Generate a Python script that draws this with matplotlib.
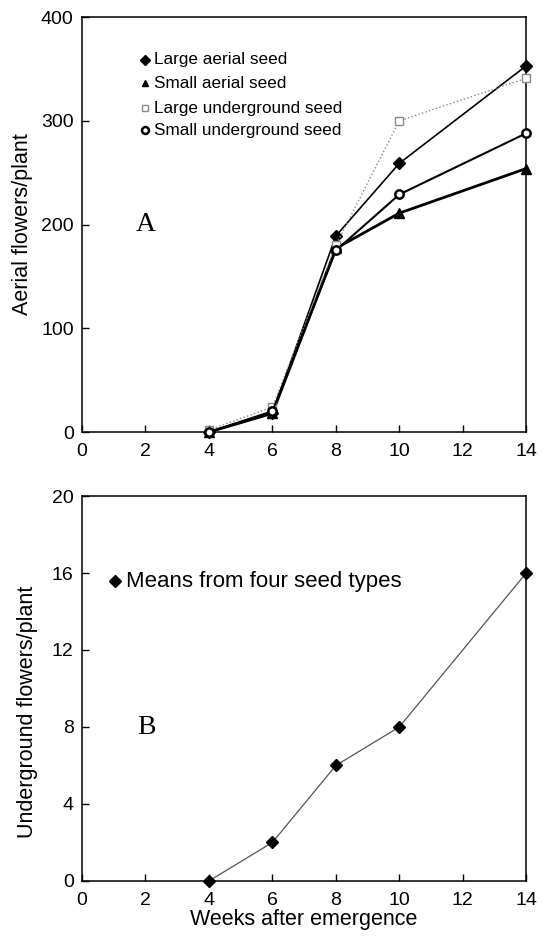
import matplotlib
matplotlib.use("Agg")
import matplotlib.pyplot as plt

plt.rcParams['font.family'] = ['Liberation Sans', 'DejaVu Sans']

weeks = [4, 6, 8, 10, 14]

# panel A: aerial flowers per plant
large_aerial = [0, 18, 189, 259, 353]
small_aerial = [0, 18, 177, 211, 254]
large_under = [2, 24, 180, 300, 341]
small_under = [0, 20, 175, 229, 288]

# panel B: underground flowers per plant
means_under = [0, 2, 6, 8, 16]

series_a = [
    ("Large aerial seed", large_aerial, dict(color='black', lw=1.2, marker='D', ms=6, mfc='black', mec='black')),
    ("Small aerial seed", small_aerial, dict(color='black', lw=2.0, marker='^', ms=7, mfc='black', mec='black')),
    ("Large underground seed", large_under, dict(color='#888888', lw=1.0, ls=':', marker='s', ms=6, mfc='white', mec='#888888')),
    ("Small underground seed", small_under, dict(color='black', lw=1.5, marker='o', ms=6, mfc='white', mec='black', mew=1.8)),
]

fig = plt.figure(figsize=(5.45, 9.38), dpi=100)
ax1 = fig.add_axes([0.1505, 0.5394, 0.815, 0.4424])
ax2 = fig.add_axes([0.1505, 0.0608, 0.815, 0.4104])

# legend rows for panel A (marker + label)
leg_y = [359, 336, 312, 291]
for (name, vals, st), ly in zip(series_a, leg_y):
    ax1.plot(weeks, vals, clip_on=False, zorder=3, **st)
    mk = {k: v for k, v in st.items() if k not in ('ls', 'lw', 'ms')}
    ax1.plot([1.99], [ly], ls='none', ms=5, **mk)
    ax1.text(2.28, ly, name, fontsize=12.3, va='center')

ax1.set_xlim(0, 14)
ax1.set_ylim(0, 400)
ax1.set_xticks(range(0, 15, 2))
ax1.set_yticks(range(0, 401, 100))
ax1.set_ylabel("Aerial flowers/plant", fontsize=15.5)
ax1.yaxis.set_label_coords(-0.11, 0.5)
ax1.text(2.0, 200, "A", fontsize=20, family='Liberation Serif', ha='center', va='center')

ax2.plot(weeks, means_under, color='#555555', lw=0.9, marker='D', ms=6, mfc='black', mec='black',
         clip_on=False, zorder=3)
ax2.plot([1.05], [15.56], ls='none', marker='D', ms=6, color='black')
ax2.text(1.38, 15.56, "Means from four seed types", fontsize=16, va='center')
ax2.set_xlim(0, 14)
ax2.set_ylim(0, 20)
ax2.set_xticks(range(0, 15, 2))
ax2.set_yticks(range(0, 21, 4))
ax2.set_ylabel("Underground flowers/plant", fontsize=15.5)
ax2.yaxis.set_label_coords(-0.10, 0.44)
ax2.set_xlabel("Weeks after emergence", fontsize=15.5, labelpad=0)
ax2.text(2.04, 7.95, "B", fontsize=20, family='Liberation Serif', ha='center', va='center')

for ax in (ax1, ax2):
    ax.tick_params(direction='in', length=5, width=1, labelsize=14)
    ax.tick_params(axis='x', pad=8)
    ax.tick_params(axis='y', pad=6)
    for s in ax.spines.values():
        s.set_linewidth(1.1)

fig.savefig("out.png", dpi=100)
